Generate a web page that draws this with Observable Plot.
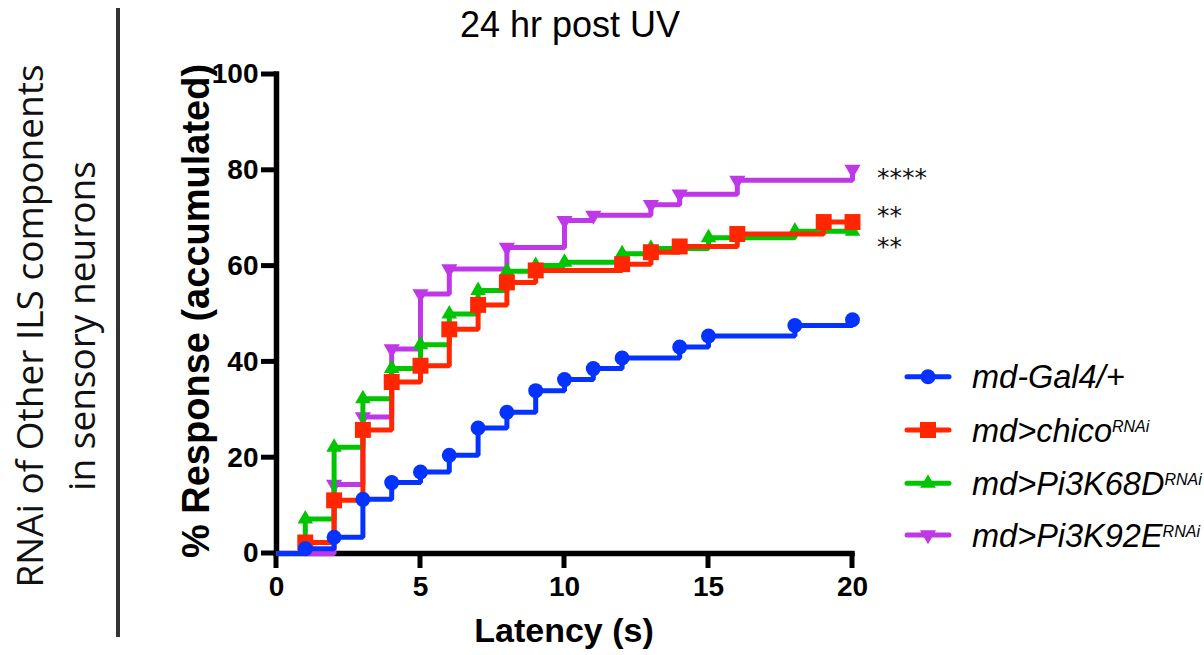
<!DOCTYPE html>
<html><head><meta charset="utf-8">
<script src="https://cdn.jsdelivr.net/npm/d3@7"></script>
<script src="https://cdn.jsdelivr.net/npm/@observablehq/plot@0.6"></script>
<style>html,body{margin:0;padding:0;background:#fff;} svg{display:block}</style>
</head><body><div id="chart"></div>
<script>
// ---- data ----
const seriesNames = ["md-Gal4/+", "md>chico", "md>Pi3K68D", "md>Pi3K92E"];
const seriesSup = ["", "RNAi", "RNAi", "RNAi"];
const blueT = [0, 1, 2, 3, 4, 5, 6, 7, 8, 9, 10, 11, 12, 14, 15, 18, 20];
const blueV = [0, 1.0, 3.4, 11.3, 14.8, 17.0, 20.5, 26.2, 29.5, 34.0, 36.3, 38.6, 40.8, 43.1, 45.4, 47.6, 48.8];
const redT = [0, 1, 2, 3, 4, 5, 6, 7, 8, 9, 12, 13, 14, 16, 19, 20];
const redV = [0, 2.3, 11.1, 25.8, 35.8, 39.2, 46.8, 51.9, 56.6, 59.1, 60.4, 62.9, 64.1, 66.7, 69.2, 69.2];
const greenT = [0, 1, 2, 3, 4, 5, 6, 7, 8, 9, 10, 12, 13, 15, 18, 20];
const greenV = [0, 7.2, 22.2, 32.3, 38.6, 43.6, 50.0, 54.9, 58.9, 60.1, 60.8, 62.6, 63.7, 65.9, 67.3, 67.3];
const purpleT = [0, 2, 3, 4, 5, 6, 8, 10, 11, 13, 14, 16, 20];
const purpleV = [0, 14.4, 28.5, 42.7, 54.2, 59.4, 63.9, 69.5, 70.6, 72.8, 75.0, 77.9, 80.2];
const xTicks = [0, 5, 10, 15, 20];
const yTicks = [0, 20, 40, 60, 80, 100];
const sigLabels = ["****", "**", "**"];
const sigY = [79.3, 71.3, 65.0];
const titleText = "24 hr post UV";
const xLabel = "Latency (s)";
const yLabel = "% Response (accumulated)";
const sideLines = ["RNAi of Other ILS components", "in sensory neurons"];

// ---- styles ----
const colors = ["#0433ff", "#ff2600", "#00c500", "#bf38e8"];
const triDown = {
  draw(ctx, size) {
    const s3 = Math.sqrt(3);
    const y = -Math.sqrt(size / (s3 * 3));
    ctx.moveTo(0, -y * 2);
    ctx.lineTo(-s3 * y, y);
    ctx.lineTo(s3 * y, y);
    ctx.closePath();
  }
};
const symbols = ["circle", "square", "triangle", triDown];
const symD3 = [d3.symbolCircle, d3.symbolSquare, d3.symbolTriangle, triDown];
const radii = [7.5, 9, 5.8, 6.0];

const toRows = (T, V) => T.map((t, i) => ({t, v: V[i]}));
const series = [toRows(blueT, blueV), toRows(redT, redV), toRows(greenT, greenV), toRows(purpleT, purpleV)];

const drawOrder = [3, 2, 1, 0];
const seriesMarks = drawOrder.flatMap(k => [
  Plot.line(series[k], {x: "t", y: "v", curve: "step-after", stroke: colors[k], strokeWidth: 5, strokeLinejoin: "miter", strokeLinecap: "butt"}),
  Plot.dot(series[k].filter(d => d.t > 0), {x: "t", y: "v", symbol: symbols[k], r: radii[k], fill: colors[k], stroke: "none"})
]);

const FONT = "'Liberation Sans', Arial, Helvetica, sans-serif";
const TICK = 15;

const chart = Plot.plot({
  width: 1204,
  height: 655,
  marginLeft: 276,
  marginRight: 352,
  marginTop: 74,
  marginBottom: 102,
  x: {domain: [0, 20]},
  y: {domain: [0, 100]},
  style: {fontFamily: FONT, background: "#fff", color: "#000", overflow: "visible"},
  marks: [
    Plot.axisX({ticks: xTicks, tickSize: 0, tickPadding: 23, fontSize: 28, fontWeight: "bold", label: null, tickFormat: d => String(d)}),
    Plot.axisY({ticks: yTicks, tickSize: 0, tickPadding: 18, fontSize: 28, fontWeight: "bold", label: null, tickFormat: d => String(d)}),
    Plot.ruleX([0], {stroke: "#000", strokeWidth: 5.5, strokeLinecap: "square"}),
    Plot.ruleY([0], {stroke: "#000", strokeWidth: 5.5, strokeLinecap: "square"}),
    ...seriesMarks
  ]
});

document.getElementById("chart").appendChild(chart);

const svg = d3.select(chart);
const ys = chart.scale("y");
const xs = chart.scale("x");

// heavy outward tick marks, placed with the chart's own scales
const tickG = svg.insert("g", ":first-child").attr("stroke", "#000").attr("stroke-width", 5);
xTicks.forEach(t => {
  const px = xs.apply(t), py = ys.apply(0);
  tickG.append("line").attr("x1", px).attr("x2", px).attr("y1", py).attr("y2", py + TICK);
});
yTicks.forEach(t => {
  const px = xs.apply(0), py = ys.apply(t);
  tickG.append("line").attr("x1", px - TICK).attr("x2", px).attr("y1", py).attr("y2", py);
});
svg.insert("rect", ":first-child").attr("width", 1204).attr("height", 655).attr("fill", "#fff");

// title
svg.append("text").attr("x", 570).attr("y", 37).attr("text-anchor", "middle")
  .style("font-family", FONT).style("font-size", "36px").attr("fill", "#000").text(titleText);

// x label
svg.append("text").attr("x", 564).attr("y", 642).attr("text-anchor", "middle")
  .style("font-family", FONT).style("font-size", "34px").style("font-weight", "bold").attr("fill", "#000").text(xLabel);

// y label
svg.append("text").attr("transform", "translate(209,311) rotate(-90)").attr("text-anchor", "middle")
  .style("font-family", FONT).style("font-size", "38px").style("font-weight", "bold").attr("fill", "#000").text(yLabel);

// side labels
const sideBase = [43, 95];
sideLines.forEach((s, i) => {
  svg.append("text").attr("transform", `translate(${sideBase[i]},326) rotate(-90)`).attr("text-anchor", "middle")
    .style("font-family", "'Open Sans', 'Noto Sans', sans-serif").style("font-size", "37px").attr("fill", "#111").text(s);
});

// divider
svg.append("line").attr("x1", 118).attr("x2", 118).attr("y1", 8).attr("y2", 637)
  .attr("stroke", "#333").attr("stroke-width", 4);

// significance stars
const starX = xs.apply(20) + 25;
sigLabels.forEach((s, i) => {
  svg.append("text").attr("text-anchor", "start").attr("x", starX).attr("y", ys.apply(sigY[i]) + 13)
    .style("font-family", "'DejaVu Sans', sans-serif").style("font-size", "25px").attr("fill", "#111").text(s);
});

// legend
const legRowY = [376.7, 430, 483.3, 535];
const leg = svg.append("g");
seriesNames.forEach((name, k) => {
  const cy = legRowY[k];
  leg.append("line").attr("x1", 907).attr("x2", 949).attr("y1", cy).attr("y2", cy)
    .attr("stroke", colors[k]).attr("stroke-width", 5).attr("stroke-linecap", "round");
  leg.append("path").attr("transform", `translate(928,${cy})`)
    .attr("d", d3.symbol().type(symD3[k]).size(Math.PI * radii[k] * radii[k])())
    .attr("fill", colors[k]);
  const t = leg.append("text").attr("x", 972).attr("y", cy + 11.5).attr("text-anchor", "start")
    .style("font-family", FONT).style("font-size", "32.5px").style("font-style", "italic").attr("fill", "#000");
  t.append("tspan").text(name);
  if (seriesSup[k]) t.append("tspan").attr("dy", -10).style("font-size", "16px").text(seriesSup[k]);
});
</script>
</body></html>
